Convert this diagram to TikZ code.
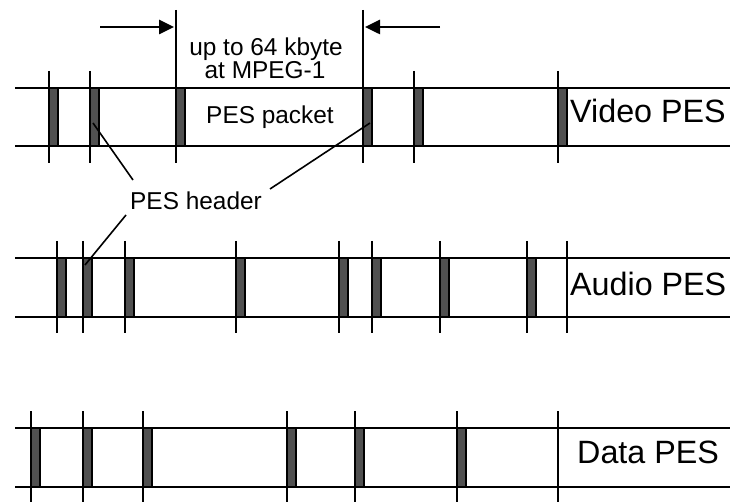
\documentclass[tikz,border=0pt]{standalone}
\usepackage{fontspec}
\setmainfont{Liberation Sans}
\usetikzlibrary{arrows.meta}
\definecolor{hdrgray}{RGB}{80,80,80}
\tikzset{
  rail/.style={line width=2.8bp, black},
  tick/.style={line width=2.6bp, black},
  hdrbox/.style={fill=hdrgray, draw=black, line width=2.2bp},
  leader/.style={line width=1.6bp, black},
  dimarrow/.style={line width=2.6bp, black, -{Triangle[length=15bp,width=14bp]}},
  lbl/.style={font=\fontsize{24.5}{28}\selectfont, inner sep=0pt, anchor=base},
  rowlbl/.style={font=\fontsize{32.4}{36}\selectfont, inner sep=0pt, anchor=base west},
}
\begin{document}
\begin{tikzpicture}[x=1bp,y=-1bp]
\useasboundingbox (0,0) rectangle (730,502);
% ---------- Video PES row ----------
\draw[rail] (15,88) -- (730,88);
\draw[rail] (15,146) -- (730,146);
\foreach \x in {49,90,176,363,414,558} {
  \draw[hdrbox] (\x,88) rectangle ++(9,58);
}
\foreach \x in {49,90,414,558} {
  \draw[tick] (\x,71) -- (\x,163);
}
\coordinate (vL) at (176,10);
\coordinate (vR) at (363,10);
\draw[tick] (vL) -- (176,163);
\draw[tick] (vR) -- (363,163);
% ---------- Audio PES row ----------
\draw[rail] (15,258) -- (730,258);
\draw[rail] (15,317) -- (730,317);
\foreach \x in {57,83,125,236,339,372,440,527} {
  \draw[hdrbox] (\x,258) rectangle ++(9,59);
}
\foreach \x in {57,83,125,236,339,372,440,527,567} {
  \draw[tick] (\x,241) -- (\x,333);
}
% ---------- Data PES row ----------
\draw[rail] (15,428) -- (730,428);
\draw[rail] (15,487) -- (730,487);
\foreach \x in {31,83,143,287,355,457} {
  \draw[hdrbox] (\x,428) rectangle ++(9,59);
}
\foreach \x in {31,83,143,287,355,457,558} {
  \draw[tick] (\x,411) -- (\x,502);
}
% ---------- dimension arrows ----------
\coordinate (aLs) at (100,27);
\coordinate (aLe) at (174,27);
\coordinate (aRs) at (440,27);
\coordinate (aRe) at (365,27);
\draw[dimarrow] (aLs) -- (aLe);
\draw[dimarrow] (aRs) -- (aRe);
% ---------- labels ----------
\node[lbl] (upto) at (266,56) {up to 64 kbyte};
\node[lbl] (mpeg) at (265,78.5) {at MPEG-1};
\node[lbl] (pkt) at (270,123.3) {PES packet};
\node[lbl] (hdr) at (196,210) {PES header};
\node[rowlbl] (video) at (570,123) {Video PES};
\node[rowlbl] (audio) at (570,295) {Audio PES};
\node[rowlbl] (data) at (577,463) {Data PES};
% ---------- leaders ----------
\coordinate (h1) at (93,123);
\coordinate (h2) at (370,123);
\coordinate (h3) at (85,265);
\coordinate (t1) at (133,180);
\coordinate (t2) at (270,189);
\coordinate (t3) at (126,215);
\draw[leader] (h1) -- (t1);
\draw[leader] (h2) -- (t2);
\draw[leader] (t3) -- (h3);
\end{tikzpicture}
\end{document}
